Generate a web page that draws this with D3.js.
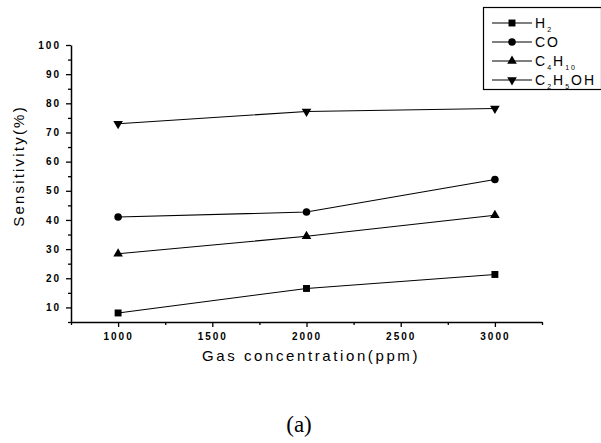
<!DOCTYPE html>
<html>
<head>
<meta charset="utf-8">
<script src="https://cdn.jsdelivr.net/npm/d3@7"></script>
<style>
body { margin: 0; background: #fff; }
text { font-family: "Liberation Sans", Arial, sans-serif; fill: #000; }
</style>
</head>
<body>
<script>
// data
var concentrations = [1000, 2000, 3000];
var h2 = [8.1, 16.5, 21.3];
var co = [41.0, 42.7, 53.9];
var c4h10 = [28.4, 34.4, 41.6];
var c2h5oh = [73.0, 77.2, 78.2];
var xMajorTicks = [1000, 1500, 2000, 2500, 3000];
var yMajorTicks = [10, 20, 30, 40, 50, 60, 70, 80, 90, 100];

var seriesList = [
  { name: ["H", "2"], values: h2, sym: d3.symbolSquare, rot: 0, size: 48 },
  { name: ["CO"], values: co, sym: d3.symbolCircle, rot: 0, size: 45 },
  { name: ["C", "4", "H", "10"], values: c4h10, sym: d3.symbolTriangle, rot: 0, size: 40 },
  { name: ["C", "2", "H", "5", "OH"], values: c2h5oh, sym: d3.symbolTriangle, rot: 180, size: 40 }
];

var svg = d3.select("body").append("svg")
  .attr("width", 601)
  .attr("height", 443);

var x = d3.scaleLinear().domain([750, 3250]).range([71, 542]);
var y = d3.scaleLinear().domain([5, 100]).range([322, 45]);

// minor ticks
var xMinor = d3.range(750, 3251, 250).filter(d => xMajorTicks.indexOf(d) < 0);
var yMinor = d3.range(5, 100, 10);

svg.append("g")
  .attr("transform", "translate(0,322)")
  .call(d3.axisBottom(x).tickValues(xMajorTicks).tickFormat(d3.format("d")).tickSize(5).tickSizeOuter(0).tickPadding(6));
svg.append("g")
  .attr("transform", "translate(0,322)")
  .call(d3.axisBottom(x).tickValues(xMinor).tickSize(3).tickFormat("").tickSizeOuter(0))
  .select(".domain").remove();

svg.append("g")
  .attr("transform", "translate(71,0)")
  .call(d3.axisLeft(y).tickValues(yMajorTicks).tickSize(5).tickSizeOuter(0).tickPadding(5));
svg.append("g")
  .attr("transform", "translate(71,0)")
  .call(d3.axisLeft(y).tickValues(yMinor).tickSize(3).tickFormat("").tickSizeOuter(0))
  .select(".domain").remove();

svg.selectAll(".domain").attr("stroke", "#000").attr("stroke-width", 1.5);
svg.selectAll(".tick line").attr("stroke", "#000").attr("stroke-width", 1.3);
svg.selectAll(".tick text")
  .style("font-size", "10px")
  .style("font-weight", "bold")
  .style("letter-spacing", "2px");

// lines + markers
var line = d3.line()
  .x((d, i) => x(concentrations[i]))
  .y(d => y(d));

seriesList.forEach(function(s) {
  svg.append("path")
    .attr("d", line(s.values))
    .attr("fill", "none")
    .attr("stroke", "#000")
    .attr("stroke-width", 1.1);
  svg.selectAll(null)
    .data(s.values)
    .enter()
    .append("path")
    .attr("d", d3.symbol().type(s.sym).size(s.size))
    .attr("transform", (d, i) => "translate(" + x(concentrations[i]) + "," + y(d) + ") rotate(" + s.rot + ")")
    .attr("fill", "#000");
});

// axis titles
svg.append("text")
  .attr("transform", "translate(24,166) rotate(-90)")
  .attr("text-anchor", "middle")
  .style("font-size", "15px")
  .style("letter-spacing", "2.2px")
  .text("Sensitivity(%)");

svg.append("text")
  .attr("x", 311)
  .attr("y", 361)
  .attr("text-anchor", "middle")
  .style("font-size", "15px")
  .style("letter-spacing", "2.6px")
  .text("Gas concentration(ppm)");

svg.append("text")
  .attr("x", 299)
  .attr("y", 432)
  .attr("text-anchor", "middle")
  .style("font-family", "'Liberation Serif', 'Times New Roman', serif")
  .style("font-size", "23px")
  .text("(a)");

// legend
var legend = svg.append("g");
legend.append("rect")
  .attr("x", 483.5)
  .attr("y", 7.5)
  .attr("width", 118)
  .attr("height", 82)
  .attr("fill", "#fff")
  .attr("stroke", "#000")
  .attr("stroke-width", 1.2);

seriesList.forEach(function(s, i) {
  var ly = 23 + i * 19;
  legend.append("line")
    .attr("x1", 492).attr("x2", 532)
    .attr("y1", ly).attr("y2", ly)
    .attr("stroke", "#000")
    .attr("stroke-width", 1.1);
  legend.append("path")
    .attr("d", d3.symbol().type(s.sym).size(s.size))
    .attr("transform", "translate(512," + ly + ") rotate(" + s.rot + ")")
    .attr("fill", "#000");
  var t = legend.append("text")
    .attr("x", 535)
    .attr("y", ly + 5)
    .style("font-size", "14px")
    .style("letter-spacing", "2px");
  s.name.forEach(function(part, j) {
    var sub = j % 2 === 1;
    t.append("tspan")
      .attr("dy", sub ? 4 : (j > 0 ? -4 : 0))
      .style("font-size", sub ? "7px" : "14px")
      .text(part);
  });
});
</script>
</body>
</html>
